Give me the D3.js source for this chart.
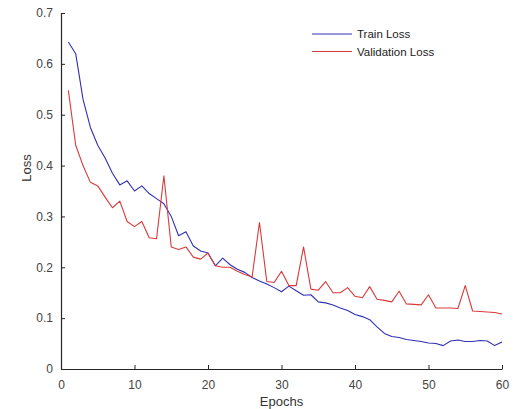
<!DOCTYPE html>
<html>
<head>
<meta charset="utf-8">
<script src="https://cdn.jsdelivr.net/npm/d3@7"></script>
<style>
  html, body { margin: 0; padding: 0; background: #fff; }
  svg { display: block; }
  text { font-family: "Liberation Sans", Arial, sans-serif; }
</style>
</head>
<body>
<svg id="chart" width="516" height="409"></svg>
<script>
// Epoch numbers 1..60
const epochs = [1,2,3,4,5,6,7,8,9,10,11,12,13,14,15,16,17,18,19,20,
  21,22,23,24,25,26,27,28,29,30,31,32,33,34,35,36,37,38,39,40,
  41,42,43,44,45,46,47,48,49,50,51,52,53,54,55,56,57,58,59,60];

const trainLoss = [0.643,0.620,0.530,0.475,0.440,0.415,0.385,0.362,0.370,0.350,
  0.360,0.345,0.335,0.325,0.300,0.262,0.270,0.242,0.232,0.228,
  0.203,0.218,0.205,0.196,0.190,0.180,0.173,0.167,0.160,0.152,
  0.163,0.154,0.145,0.146,0.132,0.130,0.126,0.120,0.115,0.107,
  0.103,0.097,0.083,0.070,0.064,0.062,0.058,0.056,0.054,0.051,
  0.050,0.046,0.055,0.057,0.054,0.054,0.056,0.055,0.046,0.053];

const valLoss = [0.548,0.440,0.400,0.367,0.360,0.338,0.317,0.330,0.290,0.280,
  0.290,0.258,0.256,0.380,0.240,0.235,0.240,0.220,0.216,0.228,
  0.203,0.200,0.200,0.192,0.186,0.181,0.288,0.172,0.170,0.192,
  0.164,0.164,0.240,0.157,0.155,0.172,0.150,0.150,0.160,0.143,
  0.140,0.162,0.137,0.135,0.132,0.153,0.128,0.127,0.126,0.146,
  0.120,0.120,0.120,0.119,0.164,0.114,0.113,0.112,0.111,0.108];

const xTicks = [0,10,20,30,40,50,60];
const yTicks = [0,0.1,0.2,0.3,0.4,0.5,0.6,0.7];

const seriesNames = ["Train Loss", "Validation Loss"];
const seriesColors = ["#3030b4", "#d83a3a"];

const svg = d3.select("#chart");
const plotLeft = 61, plotRight = 502, plotTop = 13, plotBottom = 369;

const x = d3.scaleLinear().domain([0, 60]).range([plotLeft, plotRight]);
const y = d3.scaleLinear().domain([0, 0.7]).range([plotBottom, plotTop]);

// Axes: MATLAB-style inward ticks, only left and bottom spines
const xAxis = d3.axisBottom(x).tickValues(xTicks).tickSizeInner(-4).tickSizeOuter(0)
  .tickPadding(11).tickFormat(d3.format("d"));
const yAxis = d3.axisLeft(y).tickValues(yTicks).tickSizeInner(-4).tickSizeOuter(0)
  .tickPadding(8).tickFormat(d => d === 0 ? "0" : d3.format(".1f")(d));

const gx = svg.append("g").attr("transform", `translate(0,${plotBottom})`).call(xAxis);
const gy = svg.append("g").attr("transform", `translate(${plotLeft},0)`).call(yAxis);

[gx, gy].forEach(g => {
  g.select(".domain").attr("stroke", "#262626").attr("stroke-width", 1.2);
  g.selectAll(".tick line").attr("stroke", "#262626");
  g.selectAll(".tick text").attr("fill", "#444").attr("font-size", 12)
    .attr("font-family", "\"Liberation Sans\", Arial, sans-serif");
});

// Axis titles
svg.append("text")
  .attr("x", (plotLeft + plotRight) / 2).attr("y", 406)
  .attr("text-anchor", "middle").attr("font-size", 13).attr("fill", "#333")
  .text("Epochs");
svg.append("text")
  .attr("transform", `translate(31,168) rotate(-90)`)
  .attr("text-anchor", "middle").attr("font-size", 13).attr("fill", "#333")
  .text("Loss");

// Loss curves
const line = d3.line().x((d, i) => x(epochs[i])).y(d => y(d));
[trainLoss, valLoss].forEach((vals, k) => {
  svg.append("path")
    .datum(vals)
    .attr("fill", "none")
    .attr("stroke", seriesColors[k])
    .attr("stroke-width", 1.1)
    .attr("stroke-linejoin", "round")
    .attr("d", line);
});

// Legend
const legend = svg.append("g").attr("transform", "translate(312,34)");
seriesNames.forEach((name, k) => {
  const row = legend.append("g").attr("transform", `translate(0,${k * 17.5})`);
  row.append("line").attr("x1", 0).attr("x2", 40).attr("y1", 0).attr("y2", 0)
    .attr("stroke", seriesColors[k]).attr("stroke-width", 1.1);
  row.append("text").attr("x", 45).attr("y", 4).attr("font-size", 11.5)
    .attr("fill", "#222").text(name);
});
</script>
</body>
</html>
